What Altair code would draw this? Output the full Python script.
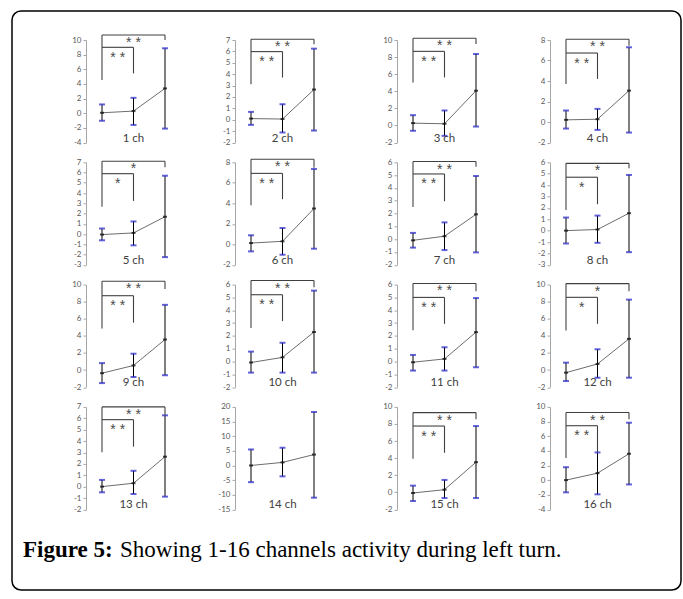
import altair as alt
import pandas as pd

# ---- data: mean and error range per channel, three conditions each ----
CHANNELS = [f"{i} ch" for i in range(1, 17)]
CONDITIONS = [1, 2, 3]

MEANS = [
    [0.06, 0.29, 3.39], [0.10, 0.06, 2.65], [0.27, 0.19, 4.06], [0.21, 0.27, 3.06],
    [-0.05, 0.11, 1.69], [0.12, 0.29, 3.49], [-0.09, 0.23, 1.94], [0.00, 0.10, 1.53],
    [-0.37, 0.53, 3.57], [-0.08, 0.32, 2.30], [-0.06, 0.20, 2.29], [-0.31, 0.71, 3.65],
    [0.00, 0.30, 2.63], [0.00, 1.05, 3.72], [-0.08, 0.31, 3.53], [0.00, 0.95, 3.60],
]
UPPER = [
    [1.20, 2.10, 8.87], [0.69, 1.36, 6.24], [1.20, 1.75, 8.36], [1.12, 1.28, 7.29],
    [0.54, 1.23, 5.69], [0.88, 1.59, 7.35], [0.49, 1.31, 4.93], [1.15, 1.32, 4.89],
    [0.81, 1.91, 7.63], [0.77, 1.46, 5.53], [0.51, 1.11, 4.95], [0.86, 2.43, 8.24],
    [0.59, 1.39, 6.26], [5.47, 6.05, 18.26], [0.78, 1.45, 7.76], [1.76, 3.78, 7.84],
]
LOWER = [
    [-1.03, -1.60, -2.10], [-0.45, -1.12, -0.95], [-0.63, -1.22, -0.13], [-0.64, -0.77, -1.03],
    [-0.61, -1.10, -2.25], [-0.69, -1.02, -0.43], [-0.66, -0.85, -1.03], [-1.13, -1.07, -1.89],
    [-1.53, -0.82, -0.61], [-0.87, -0.87, -0.87], [-0.71, -0.71, -0.45], [-1.29, -0.90, -0.90],
    [-0.50, -0.65, -0.88], [-5.70, -3.72, -11.00], [-1.02, -0.67, -0.67], [-1.67, -1.94, -0.59],
]

# ---- y axis range and tick step per channel ----
Y_MIN = [-4, -2, -2, -2, -3, -2, -2, -3, -2, -2, -2, -2, -2, -15, -2, -4]
Y_MAX = [10, 7, 10, 8, 7, 8, 6, 6, 10, 6, 6, 10, 7, 20, 10, 10]
Y_STEP = [2, 1, 2, 2, 1, 2, 1, 1, 2, 1, 1, 2, 1, 5, 2, 2]

# ---- significance brackets (data units); channel 14 has none ----
OUTER_TOP = [10.68, 7.07, 10.2, 8.07, 7.1, 8.3, 6.06, 5.91, 10.39, 6.32, 6.09, 10.12, 7.0, None, 9.33, 9.23]
OUTER_LEFT_FOOT = [4.53, 3.11, 5.03, 3.71, 2.67, 3.82, 2.51, 1.82, 4.87, 2.62, 2.43, 4.63, 3.01, None, 3.92, 3.02]
OUTER_RIGHT_FOOT = [10.0, 6.63, 9.53, 7.45, 6.51, 7.48, 5.66, 5.48, 9.49, 5.79, 5.48, 9.22, 6.26, None, 8.55, 8.33]
INNER_TOP = [9.0, 5.98, 8.67, 6.73, 5.89, 6.92, 5.09, 4.69, 8.7, 5.21, 5.0, 8.51, 5.88, None, 7.76, 7.43]
INNER_FOOT = [5.44, 3.7, 5.62, 4.2, 3.23, 4.4, 2.96, 2.32, 5.54, 3.15, 2.94, 5.41, 3.51, None, 4.63, 3.83]
OUTER_STARS = ["* *", "* *", "* *", "* *", "*", "* *", "* *", "*", "* *", "* *", "* *", "*", "* *", "", "* *", "* *"]
INNER_STARS = ["* *", "* *", "* *", "* *", "*", "* *", "* *", "*", "* *", "* *", "* *", "*", "* *", "", "* *", "* *"]

CAPTION_BOLD = "Figure 5:"
CAPTION_TEXT = "Showing 1-16 channels activity during left turn."

# ---- layout ----
COL_WIDTHS = [119, 132, 123, 120]
COL_GAP = 30
ROW_GAP = 19.3
H = 102.5
X_LEAD = 16.0     # px from the y axis to the first condition
X_UNIT = 31.5     # px between conditions

LABEL_FONT = "Lato"
STAR_FONT = "Liberation Sans"
AXIS_GREY = "#a6a6a6"
TEXT_GREY = "#595959"
CAP_BLUE = "#2222c8"


def panel(i, width):
    x0 = 1 - X_LEAD / X_UNIT
    xscale = alt.Scale(domain=[x0, x0 + width / X_UNIT], nice=False, zero=False)
    yscale = alt.Scale(domain=[Y_MIN[i], Y_MAX[i]], nice=False, zero=False)
    yaxis = alt.Axis(
        values=list(range(Y_MIN[i], Y_MAX[i] + 1, Y_STEP[i])),
        grid=False, domainColor=AXIS_GREY, tickColor=AXIS_GREY, tickSize=3,
        labelFont=LABEL_FONT, labelFontSize=8, labelColor=TEXT_GREY,
        labelPadding=2, labelOverlap=False, labelExpr="datum.value + ''",
    )

    def X(field):
        return alt.X(field, scale=xscale, axis=None)

    def Y(field):
        return alt.Y(field, scale=yscale, axis=yaxis, title="")

    df = pd.DataFrame({"cond": CONDITIONS, "mean": MEANS[i], "lo": LOWER[i], "hi": UPPER[i]})
    base = alt.Chart(df)

    whisker = base.mark_rule(color="black", strokeWidth=1).encode(
        x=X("cond:Q"), y=Y("lo:Q"), y2="hi:Q")
    cap_hi = base.mark_tick(orient="horizontal", color=CAP_BLUE, size=6, thickness=2).encode(
        x=X("cond:Q"), y=Y("hi:Q"))
    cap_lo = base.mark_tick(orient="horizontal", color=CAP_BLUE, size=6, thickness=2).encode(
        x=X("cond:Q"), y=Y("lo:Q"))
    line = base.mark_line(color="#6d6d6d", strokeWidth=1).encode(
        x=X("cond:Q"), y=Y("mean:Q"))
    dots = base.mark_tick(orient="horizontal", color="black", size=4, thickness=2).encode(
        x=X("cond:Q"), y=Y("mean:Q"))

    name = pd.DataFrame({"cond": [2], "label": [CHANNELS[i]]})
    label = alt.Chart(name).mark_text(
        font=LABEL_FONT, fontSize=11.5, color="#404040", baseline="middle", align="center"
    ).encode(x=X("cond:Q"), y=alt.value(H - 4), text="label:N")

    layers = [whisker, line, cap_hi, cap_lo, dots, label]

    if OUTER_TOP[i] is not None:
        segs = pd.DataFrame({
            "x":  [1, 1, 3, 1, 2],
            "x2": [3, 1, 3, 2, 2],
            "y":  [OUTER_TOP[i], OUTER_TOP[i], OUTER_TOP[i], INNER_TOP[i], INNER_TOP[i]],
            "y2": [OUTER_TOP[i], OUTER_LEFT_FOOT[i], OUTER_RIGHT_FOOT[i], INNER_TOP[i], INNER_FOOT[i]],
        })
        brackets = alt.Chart(segs).mark_rule(color="#404040", strokeWidth=1.1).encode(
            x=X("x:Q"), x2="x2:Q", y=Y("y:Q"), y2="y2:Q")
        outer = pd.DataFrame({"x": [2.0], "y": [OUTER_TOP[i]], "s": [OUTER_STARS[i]]})
        inner = pd.DataFrame({"x": [1.5], "y": [INNER_TOP[i]], "s": [INNER_STARS[i]]})
        star_outer = alt.Chart(outer).mark_text(
            font=STAR_FONT, fontSize=14, color="#4a4a4a", dy=12, baseline="alphabetic"
        ).encode(x=X("x:Q"), y=Y("y:Q"), text="s:N")
        star_inner = alt.Chart(inner).mark_text(
            font=STAR_FONT, fontSize=14, color="#4a4a4a", dy=14.5, baseline="alphabetic"
        ).encode(x=X("x:Q"), y=Y("y:Q"), text="s:N")
        layers += [brackets, star_outer, star_inner]

    return alt.layer(*layers).properties(width=width, height=H)


panels = [panel(i, COL_WIDTHS[i % 4]) for i in range(16)]

# ---- caption row with the surrounding frame ----
grid_h = 4 * (H + ROW_GAP)
cap_df = pd.DataFrame({"bold": [CAPTION_BOLD], "text": [CAPTION_TEXT]})
cap_base = alt.Chart(cap_df)
frame = cap_base.mark_rect(
    fill="white", fillOpacity=0, stroke="black", strokeWidth=1.5, cornerRadius=9
).encode(
    x=alt.value(-74), x2=alt.value(595),
    y=alt.value(11 - 42 - grid_h), y2=alt.value(590 - 42 - grid_h),
)
cap_bold = cap_base.mark_text(
    font="Liberation Serif", fontSize=23, fontWeight="bold", color="black",
    align="left", baseline="alphabetic"
).encode(x=alt.value(-63), y=alt.value(557 - 42 - grid_h), text="bold:N")
cap_text = cap_base.mark_text(
    font="Liberation Serif", fontSize=23, color="black",
    align="left", baseline="alphabetic"
).encode(x=alt.value(34), y=alt.value(557 - 42 - grid_h), text="text:N")
caption = alt.layer(frame, cap_bold, cap_text).properties(width=COL_WIDTHS[0], height=H)

chart = alt.concat(
    *panels, caption,
    columns=4,
    spacing={"row": ROW_GAP, "column": COL_GAP},
    bounds="flush",
    align="each",
).properties(
    padding={"left": 11, "top": 10, "right": 0, "bottom": 0},
    background="white",
).configure_view(strokeWidth=0)

chart.save("out.html", embed_options={"renderer": "svg", "actions": False})
